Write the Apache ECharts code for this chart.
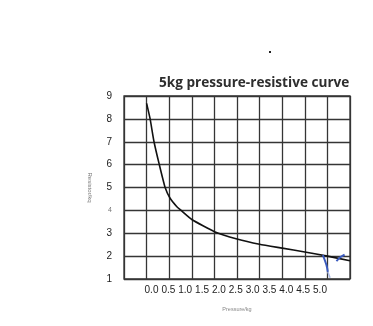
<!DOCTYPE html>
<html>
<head>
<meta charset="utf-8">
<script src="https://cdn.jsdelivr.net/npm/echarts@6/dist/echarts.min.js"></script>
<style>
  html, body { margin: 0; padding: 0; background: #fff; }
  #chart { width: 373px; height: 326px; }
</style>
</head>
<body>
<div id="chart"></div>
<script>
// Pressure (kg) vs resistance (kΩ) readings of the 5 kg sensor
const pressure = [0, 0.075, 0.164, 0.28, 0.41, 0.52, 0.67, 0.75, 1.0, 1.5, 2.0, 2.5, 3.0, 3.5, 4.0, 4.5];
const resistance = [8.68, 8.03, 7.0, 6.01, 5.0, 4.53, 4.16, 4.02, 3.6, 3.07, 2.75, 2.52, 2.35, 2.18, 2.0, 1.8];

// Hand-drawn pen strokes near the tail of the curve
const penStrokeA_x = [3.9, 3.98, 4.01];
const penStrokeA_y = [2.05, 1.6, 1.31];
const penStrokeA2_x = [4.01, 4.06];
const penStrokeA2_y = [1.31, 1.05];
const penStrokeB_x = [4.2, 4.29, 4.38];
const penStrokeB_y = [1.78, 1.96, 2.07];

// Axis ticks
const xTickLabels = ['0.0', '0.5', '1.0', '1.5', '2.0', '2.5', '3.0', '3.5', '4.0', '4.5', '5.0'];
const yTickLabels = ['1', '2', '3', '4', '5', '6', '7', '8', '9'];

const zip = (xs, ys) => xs.map((x, i) => [x, ys[i]]);

const chart = echarts.init(document.getElementById('chart'), null, { renderer: 'canvas' });

const gridColor = '#353535';

chart.setOption({
  backgroundColor: '#ffffff',
  animation: false,
  title: {
    text: '5kg pressure-resistive curve',
    left: 159,
    top: 76,
    padding: 0,
    textStyle: {
      fontFamily: 'Open Sans',
      fontWeight: 'bold',
      fontSize: 13.6,
      color: '#2e2e2e'
    }
  },
  grid: [
    {
      left: 124, right: 23, top: 96, bottom: 47,
      show: true, borderColor: gridColor, borderWidth: 1.3,
      containLabel: false
    },
    {
      left: 151.5, right: 53, top: 96, bottom: 47,
      show: false, containLabel: false
    }
  ],
  xAxis: [
    {
      type: 'value', gridIndex: 0,
      min: -0.5, max: 4.5, interval: 0.5,
      axisLine: { show: false },
      axisTick: { show: false },
      axisLabel: { show: false },
      splitLine: { show: true, lineStyle: { color: gridColor, width: 1.3 } },
      name: 'Pressure/kg',
      nameLocation: 'middle',
      nameGap: 27,
      nameTextStyle: { fontFamily: 'Liberation Sans', fontSize: 5.5, color: '#888' }
    },
    {
      type: 'value', gridIndex: 1,
      min: 0, max: 5, interval: 0.5,
      axisLine: { show: false },
      axisTick: { show: false },
      splitLine: { show: false },
      axisLabel: {
        margin: 6,
        fontFamily: 'Liberation Sans',
        fontSize: 10,
        color: '#222',
        formatter: (v) => xTickLabels[Math.round(v / 0.5)]
      }
    }
  ],
  yAxis: [
    {
      type: 'value', gridIndex: 0,
      min: 1, max: 9, interval: 1,
      axisLine: { show: false },
      axisTick: { show: false },
      splitLine: { show: true, lineStyle: { color: gridColor, width: 1.3 } },
      axisLabel: {
        margin: 12,
        fontFamily: 'Liberation Sans',
        fontSize: 10,
        color: '#222',
        formatter: (v) => {
          const t = yTickLabels[Math.round(v) - 1];
          return t === '4' ? '{faint|' + t + '}' : t;
        },
        rich: {
          faint: { fontFamily: 'Liberation Sans', fontSize: 7, color: '#777' }
        }
      },
      name: 'Resistor/kq',
      nameLocation: 'middle',
      nameGap: 31,
      nameRotate: -90,
      nameTextStyle: { fontFamily: 'Liberation Sans', fontSize: 6, color: '#777' }
    },
    {
      type: 'value', gridIndex: 1, min: 1, max: 9, show: false
    }
  ],
  series: [
    {
      type: 'line',
      xAxisIndex: 0, yAxisIndex: 0,
      data: zip(pressure, resistance),
      smooth: 0.15,
      showSymbol: false,
      lineStyle: { color: '#111', width: 1.6 }
    },
    {
      type: 'line',
      xAxisIndex: 0, yAxisIndex: 0,
      data: zip(penStrokeA_x, penStrokeA_y),
      smooth: 0.3, showSymbol: false,
      lineStyle: { color: '#3b5bbf', width: 2 }
    },
    {
      type: 'line',
      xAxisIndex: 0, yAxisIndex: 0,
      data: zip(penStrokeA2_x, penStrokeA2_y),
      showSymbol: false,
      lineStyle: { color: '#a9b8e6', width: 1.5 }
    },
    {
      type: 'line',
      xAxisIndex: 0, yAxisIndex: 0,
      data: zip(penStrokeB_x, penStrokeB_y),
      smooth: 0.3, showSymbol: false,
      lineStyle: { color: '#3b5bbf', width: 2 }
    },
    {
      // keeps the label-only axis pair active
      type: 'line',
      xAxisIndex: 1, yAxisIndex: 1,
      data: [],
      silent: true
    }
  ],
  graphic: [
    { type: 'rect', left: 269, top: 51, shape: { width: 2, height: 2 }, style: { fill: '#222' } }
  ]
});
</script>
</body>
</html>
